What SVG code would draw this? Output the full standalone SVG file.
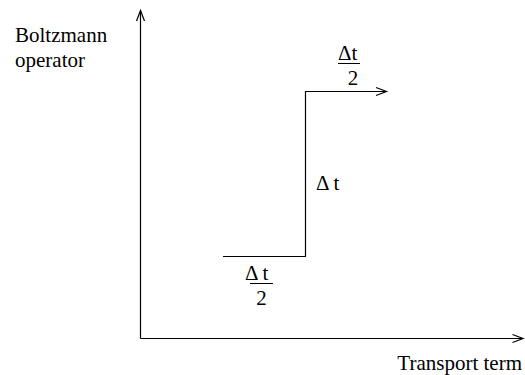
<svg xmlns="http://www.w3.org/2000/svg" width="525" height="375" viewBox="0 0 525 375">
<rect width="525" height="375" fill="#fff"/>
<g id="connectors" stroke="#000" stroke-width="1.2" fill="none">
<path d="M140.5,338.5 V10.5"/>
<path d="M136.5,21 L140.5,10.5 L144.5,21"/>
<path d="M140.5,338.5 H523"/>
<path d="M512.5,334.5 L523,338.5 L512.5,342.5"/>
<path d="M223,256.5 H305.5 V91.5 H386.5"/>
<path d="M376,87.5 L386.5,91.5 L376,95.5"/>
</g>
<text x="15" y="42" style="font-family:'Liberation Serif'" font-size="21">Boltzmann</text>
<text x="15" y="67" style="font-family:'Liberation Serif'" font-size="21">operator</text>
<text x="522" y="370" style="font-family:'Liberation Serif'" font-size="21" text-anchor="end">Transport term</text>
<g id="top-fraction">
<text x="338" y="60" style="font-family:'Liberation Serif'" font-size="21">&#916;t</text>
<line x1="338" y1="63.5" x2="360" y2="63.5" stroke="#000" stroke-width="1"/>
<text x="353" y="85" style="font-family:'Liberation Serif'" font-size="21" text-anchor="middle">2</text>
</g>
<g id="mid-label">
<text x="316" y="190" style="font-family:'Liberation Serif'" font-size="21">&#916; t</text>
</g>
<g id="bottom-fraction">
<text x="245" y="280" style="font-family:'Liberation Serif'" font-size="21">&#916; t</text>
<line x1="250" y1="283.5" x2="273" y2="283.5" stroke="#000" stroke-width="1"/>
<text x="261.5" y="305" style="font-family:'Liberation Serif'" font-size="21" text-anchor="middle">2</text>
</g>
</svg>
